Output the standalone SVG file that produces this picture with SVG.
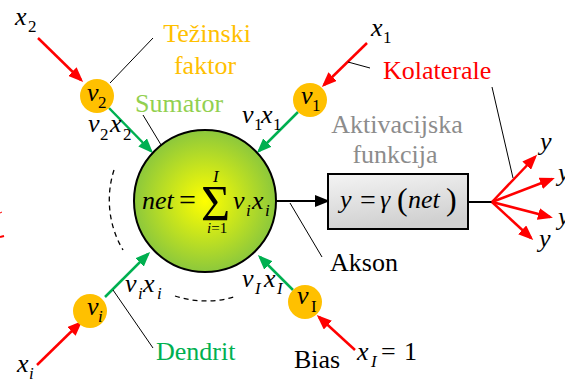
<svg xmlns="http://www.w3.org/2000/svg" width="565" height="381" viewBox="0 0 565 381" font-family="Liberation Serif, Times New Roman, serif">
<style>
.m{font-style:italic;font-size:26px;fill:#000;}
.s{font-size:17px;fill:#000;}
.si{font-style:italic;font-size:17px;fill:#000;}
.lbl{font-size:26px;}
.red{stroke:#FF0000;stroke-width:2.5;fill:none;}
.grn{stroke:#00B050;stroke-width:2.5;fill:none;}
.blk{stroke:#000;stroke-width:2;fill:none;}
.lead{stroke:#000;stroke-width:1;fill:none;}
.w{fill:#FFC000;}
</style>
<defs>
<marker id="ar" markerUnits="userSpaceOnUse" markerWidth="16" markerHeight="12" refX="12" refY="6" orient="auto"><path d="M0,0 L15,6 L0,12 z" fill="#FF0000"/></marker>
<marker id="ag" markerUnits="userSpaceOnUse" markerWidth="16" markerHeight="12" refX="12" refY="6" orient="auto"><path d="M0,0 L15,6 L0,12 z" fill="#00B050"/></marker>
<marker id="ab" markerUnits="userSpaceOnUse" markerWidth="16" markerHeight="12" refX="12" refY="6" orient="auto"><path d="M0,0 L15,6 L0,12 z" fill="#000"/></marker>
<radialGradient id="gs" cx="0.5" cy="0.5" r="0.5">
<stop offset="0" stop-color="#FFFF00"/>
<stop offset="1" stop-color="#8CC83C"/>
</radialGradient>
<linearGradient id="gb" x1="0" y1="0" x2="0.3" y2="1">
<stop offset="0" stop-color="#F4F4F4"/>
<stop offset="1" stop-color="#D0D0D0"/>
</linearGradient>
</defs>

<g id="connectors">
<line class="red" x1="38" y1="38" x2="81" y2="80" marker-end="url(#ar)"/>
<line class="red" x1="367" y1="43" x2="324" y2="85" marker-end="url(#ar)"/>
<line class="red" x1="37" y1="365" x2="80" y2="323" marker-end="url(#ar)"/>
<line class="red" x1="355" y1="350" x2="319" y2="317" marker-end="url(#ar)"/>
<line class="grn" x1="109" y1="108" x2="151" y2="151" marker-end="url(#ag)"/>
<line class="grn" x1="298" y1="112" x2="259" y2="151" marker-end="url(#ag)"/>
<line class="grn" x1="105" y1="297" x2="148" y2="254" marker-end="url(#ag)"/>
<line class="grn" x1="293" y1="290" x2="260" y2="257" marker-end="url(#ag)"/>
<line class="blk" x1="276" y1="201" x2="327" y2="201" marker-end="url(#ab)"/>
<line class="blk" x1="468" y1="202" x2="492" y2="202"/>
<line class="red" x1="492" y1="202" x2="535" y2="157" marker-end="url(#ar)"/>
<line class="red" x1="492" y1="202" x2="552" y2="179" marker-end="url(#ar)"/>
<line class="red" x1="492" y1="202" x2="550" y2="217" marker-end="url(#ar)"/>
<line class="red" x1="492" y1="202" x2="531" y2="238" marker-end="url(#ar)"/>
<path d="M114,170 A98,98 0 0 0 123,250" stroke="#000" stroke-width="1.3" stroke-dasharray="5,4" fill="none"/>
<path d="M175,296 A100,100 0 0 0 234,297" stroke="#000" stroke-width="1.3" stroke-dasharray="5,4" fill="none"/>
<line class="lead" x1="110" y1="83" x2="153" y2="38"/>
<line class="lead" x1="143" y1="115" x2="172" y2="163"/>
<line class="lead" x1="348" y1="62" x2="370" y2="68"/>
<line class="lead" x1="492" y1="87" x2="513" y2="178"/>
<line class="lead" x1="290" y1="203" x2="322" y2="257"/>
<line class="lead" x1="113" y1="290" x2="153" y2="348"/>
<line stroke="#FF0000" stroke-width="1" x1="0" y1="213" x2="2" y2="212"/>
<line stroke="#FF0000" stroke-width="2" x1="0" y1="237" x2="4" y2="236"/>
</g>

<g id="sumator">
<circle cx="205" cy="201" r="71" fill="url(#gs)" stroke="#000" stroke-width="2"/>
<text class="m" x="142" y="209">net</text>
<text x="179" y="210" font-size="30">=</text>
<text x="201" y="220" font-size="50">Σ</text>
<text class="si" x="213" y="182">I</text>
<text x="207" y="233" font-size="15" font-style="italic">i<tspan font-style="normal">=1</tspan></text>
<text class="m" x="233" y="209">v</text><text class="si" x="246" y="216">i</text>
<text class="m" x="252" y="209">x</text><text class="si" x="265" y="216">i</text>
<text class="lbl" x="135" y="112" fill="#92D050">Sumator</text>
</g>

<g id="aktivacija">
<rect x="328" y="174" width="140" height="55" fill="url(#gb)" stroke="#000" stroke-width="2"/>
<text class="m" x="340" y="208">y</text>
<text x="360" y="209" font-size="28">=</text>
<text class="m" x="380" y="208">γ</text>
<text x="397" y="210" font-size="32">(</text>
<text class="m" x="408" y="208">net</text>
<text x="446" y="210" font-size="32">)</text>
<text class="lbl" x="397" y="133" fill="#8C8C8C" text-anchor="middle">Aktivacijska</text>
<text class="lbl" x="395" y="163" fill="#8C8C8C" text-anchor="middle">funkcija</text>
</g>

<g id="w2">
<circle class="w" cx="97" cy="96" r="17"/>
<text class="m" x="87" y="101">v</text><text class="s" x="98" y="108">2</text>
</g>
<g id="w1">
<circle class="w" cx="310" cy="100" r="17"/>
<text class="m" x="301" y="104">v</text><text class="s" x="312" y="111">1</text>
</g>
<g id="wi">
<circle class="w" cx="90" cy="311" r="17"/>
<text class="m" x="87" y="315">v</text><text class="si" x="98" y="322">i</text>
</g>
<g id="wI">
<circle class="w" cx="305" cy="302" r="17"/>
<text class="m" x="297" y="304">v</text><text class="s" x="311" y="312">I</text>
</g>

<g id="labels">
<text class="m" x="15" y="25">x</text><text class="s" x="28" y="32">2</text>
<text class="m" x="371" y="36">x</text><text class="s" x="383" y="43">1</text>
<text class="m" x="17" y="372">x</text><text class="si" x="29" y="379">i</text>
<text class="m" x="357" y="360">x</text><text class="si" x="371" y="367">I</text>
<text x="381" y="360" font-size="26">=</text>
<text x="404" y="360" font-size="26">1</text>
<text class="m" x="88" y="132">v</text><text class="s" x="100" y="140">2</text>
<text class="m" x="110" y="132">x</text><text class="s" x="123" y="140">2</text>
<text class="m" x="242" y="123">v</text><text class="s" x="254" y="130">1</text>
<text class="m" x="261" y="123">x</text><text class="s" x="273" y="130">1</text>
<text class="m" x="125" y="292">v</text><text class="si" x="138" y="299">i</text>
<text class="m" x="143" y="292">x</text><text class="si" x="157" y="299">i</text>
<text class="m" x="242" y="287">v</text><text class="si" x="255" y="294">I</text>
<text class="m" x="264" y="287">x</text><text class="si" x="277" y="294">I</text>
<text class="m" x="540" y="150">y</text>
<text class="m" x="558" y="181">y</text>
<text class="m" x="558" y="225">y</text>
<text class="m" x="539" y="247">y</text>
<text class="lbl" x="207" y="42" fill="#FFC000" text-anchor="middle">Težinski</text>
<text class="lbl" x="205" y="74" fill="#FFC000" text-anchor="middle">faktor</text>
<text class="lbl" x="383" y="79" fill="#FF0000">Kolaterale</text>
<text class="lbl" x="330" y="271" fill="#000">Akson</text>
<text class="lbl" x="156" y="360" fill="#00B050">Dendrit</text>
<text class="lbl" x="294" y="368" fill="#000">Bias</text>
</g>
</svg>
